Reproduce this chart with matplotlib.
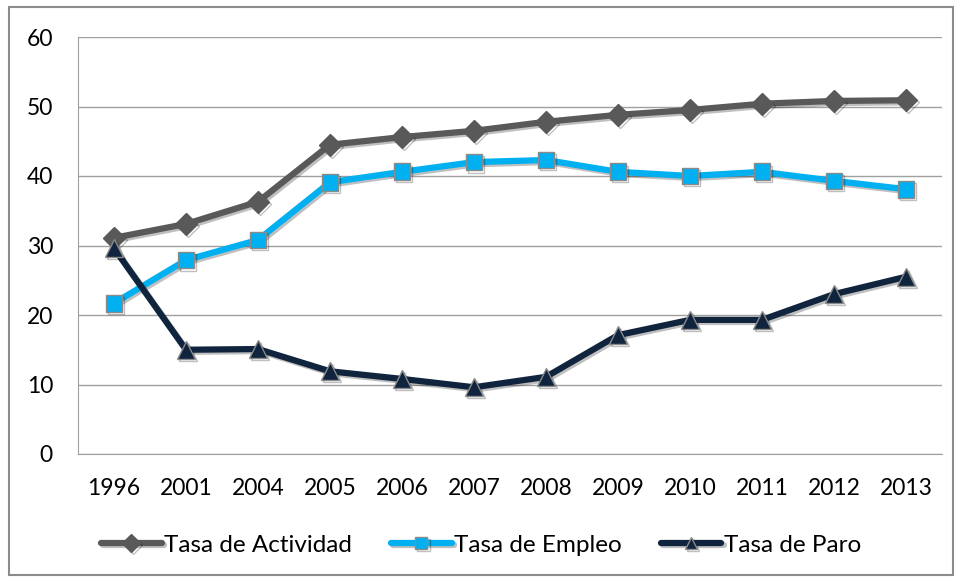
import matplotlib.pyplot as plt
import matplotlib.patheffects as pe
from matplotlib.patches import Rectangle

years = ['1996', '2001', '2004', '2005', '2006', '2007', '2008', '2009', '2010', '2011', '2012', '2013']
actividad = [31.1, 33.1, 36.3, 44.5, 45.6, 46.5, 47.8, 48.8, 49.5, 50.4, 50.8, 50.9]
empleo = [21.7, 27.9, 30.8, 39.1, 40.6, 42.0, 42.3, 40.6, 40.0, 40.6, 39.3, 38.1]
paro = [29.6, 15.0, 15.1, 11.9, 10.8, 9.6, 11.1, 17.1, 19.3, 19.3, 23.0, 25.5]

plt.rcParams['font.family'] = ['Lato', 'DejaVu Sans']

fig = plt.figure(figsize=(9.62, 5.81), dpi=100)
ax = fig.add_axes([78 / 962, 1 - 454 / 581, 864 / 962, 417 / 581])
fig.patches.append(Rectangle((9 / 962, 6 / 581), 944 / 962, 568 / 581, transform=fig.transFigure,
                             fill=False, edgecolor='#8c8c8c', linewidth=1.5))

x = list(range(len(years)))
shadow = [pe.SimpleLineShadow(offset=(1.5, -1.5), shadow_color='#000000', alpha=0.25), pe.Normal()]

series = [
    (actividad, 'Tasa de Actividad', '#595959', 'D', 11),
    (empleo, 'Tasa de Empleo', '#00b0f0', 's', 12),
    (paro, 'Tasa de Paro', '#10243e', '^', 13),
]
for vals, name, col, mk, ms in series:
    ax.plot(x, vals, color=col, linewidth=4.5, marker=mk, markersize=ms,
            markerfacecolor=col, markeredgecolor='#8a8a8a' if mk != 'D' else col,
            markeredgewidth=1, label=name, solid_capstyle='round', path_effects=shadow)

ax.set_xlim(-0.5, len(years) - 0.5)
ax.set_ylim(0, 60)
ax.set_yticks(range(0, 61, 10))
ax.set_xticks(x)
ax.set_xticklabels(years)
ax.yaxis.grid(True, color='#a0a0a0', linewidth=1)
ax.set_axisbelow(True)
for s in ['top', 'right']:
    ax.spines[s].set_visible(False)
for s in ['left', 'bottom']:
    ax.spines[s].set_color('#a0a0a0')
ax.tick_params(axis='both', length=0, labelsize=16.5, colors='#000000')
ax.tick_params(axis='x', pad=17)
ax.tick_params(axis='y', pad=18)

leg = fig.legend(loc='center', bbox_to_anchor=(0.5, 1 - 545 / 581), ncol=3, frameon=False,
                 fontsize=17.5, handlelength=2.5, handletextpad=0.1, columnspacing=1.6)
for h in leg.legend_handles:
    h.set_markersize(9)

fig.savefig('out.png', dpi=100)
